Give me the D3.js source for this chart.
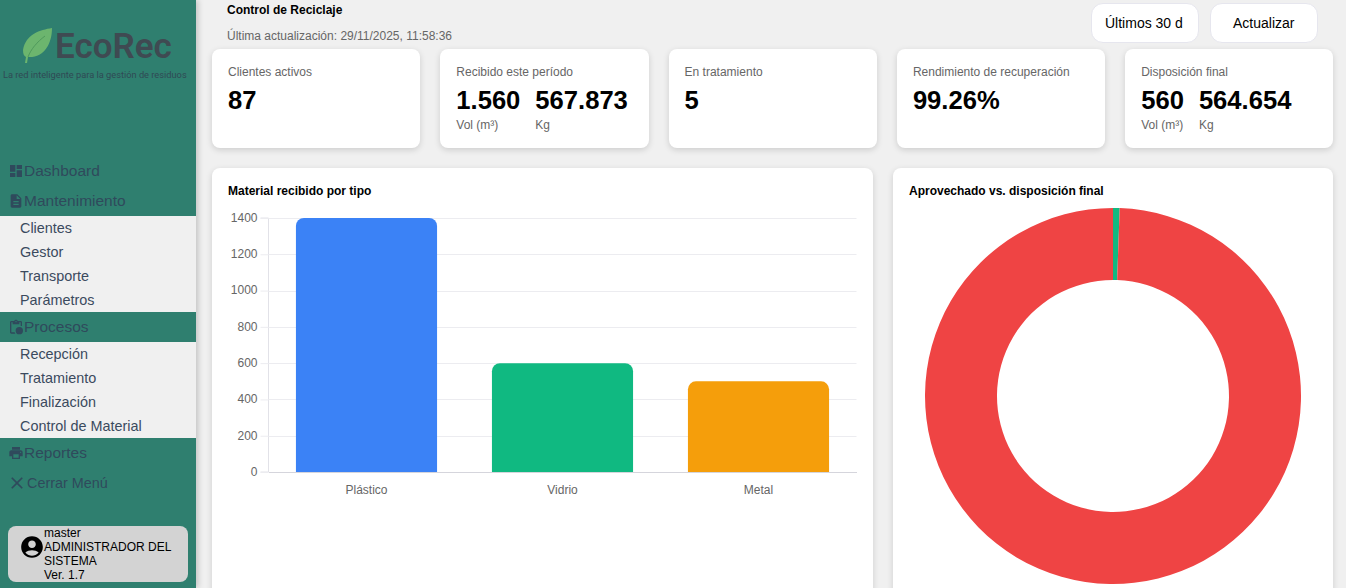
<!DOCTYPE html>
<html lang="es">
<head>
<meta charset="utf-8">
<title>Control de Reciclaje</title>
<script src="https://cdn.jsdelivr.net/npm/d3@7"></script>
<style>
  html, body { margin: 0; padding: 0; width: 1346px; height: 588px; overflow: hidden; background: #f0f0f0; font-family: "Liberation Sans", Arial, sans-serif; }
  #sidebar { position: absolute; left: 0; top: 0; width: 196px; height: 588px; background: #2f7f6f; box-shadow: 2px 0 6px rgba(0,0,0,.2); color: #2f4a5c; }
  #logo { position: absolute; left: 0; top: 0; }
  #nav { position: absolute; left: 0; top: 156px; width: 196px; }
  .head { height: 30px; display: flex; align-items: center; padding-left: 8px; font-size: 15.5px; }
  .head svg { width: 16px; height: 16px; fill: #2f4a5c; }
  .subs { background: #f0f0f0; }
  .sub { height: 24px; line-height: 24px; padding-left: 20px; font-size: 14.4px; color: #3b4a5e; }
  .close { font-size: 14.4px; }
  .close svg { margin-left: -1.5px; margin-right: 0.5px; width: 20px; height: 20px; }
  #user { position: absolute; left: 8px; top: 526px; width: 180px; height: 56px; background: #d3d3d3; border-radius: 8px; color: #000; font-size: 12px; line-height: 14px; }
  #user svg { position: absolute; left: 11px; top: 8px; width: 26px; height: 26px; }
  #user div { position: absolute; left: 36px; top: 0; width: 140px; }
  #title { position: absolute; left: 227px; top: 3px; font-size: 12px; line-height: 14px; font-weight: bold; color: #000; }
  #updated { position: absolute; left: 227px; top: 29px; font-size: 12px; line-height: 14px; color: #666; }
  .btn { position: absolute; top: 3px; width: 107.5px; height: 40px; box-sizing: border-box; background: #fff; border: 1px solid #e6e6ee; border-radius: 12px; font-size: 14px; line-height: 38px; text-align: center; color: #000; }
  #range { left: 1091px; text-align: left; }
  #range span { display: block; margin-left: 13px; white-space: nowrap; }
  #refresh { left: 1210px; }
  #kpis { position: absolute; left: 212px; top: 49px; width: 1121.5px; display: flex; gap: 20px; }
  .kpi { flex: 1; height: 99px; box-sizing: border-box; padding: 16px 16px 0; background: #fff; border-radius: 8px; box-shadow: 0 2px 6px rgba(0,0,0,.15); }
  .kpi .label { font-size: 12px; line-height: 14px; color: #666; }
  .kpi .groups { display: flex; gap: 15px; margin-top: 6px; }
  .kpi .val { font-size: 25.6px; line-height: 30px; font-weight: bold; color: #000; }
  .kpi .unit { font-size: 12px; line-height: 14px; margin-top: 3px; color: #666; }
  .panel { position: absolute; top: 168px; height: 440px; background: #fff; border-radius: 8px; box-shadow: 0 2px 6px rgba(0,0,0,.15); }
  #panelBar { left: 212px; width: 661px; }
  #panelDonut { left: 893px; width: 440px; }
  #charts { position: absolute; left: 0; top: 0; }
  .chart-title { font-size: 12px; font-weight: bold; fill: #000; }
  .tick text { font-family: "Liberation Sans", Arial, sans-serif; font-size: 12px; fill: #666; }
</style>
</head>
<body>
<div id="sidebar">
  <svg id="logo" width="196" height="100">
    <path d="M52 28C40 30 26 34 23 50C23 54 24 56 26 57L25 63L27 63L28 57C44 58 52 44 52 28Z" fill="#6cb56e"/>
    <path d="M28 57C31 49 37 42 45 36" fill="none" stroke="#4f9a5c" stroke-width="1"/>
    <text x="55" y="58" font-family="Roboto" font-weight="600" font-size="35" fill="#3f4a52">EcoRec</text>
    <text x="3" y="78" font-family="Roboto" font-size="9.25" fill="#2f4a55">La red inteligente para la gestión de residuos</text>
  </svg>
  <div id="nav"></div>
  <div id="user"></div>
</div>
<div id="title"></div>
<div id="updated"></div>
<div class="btn" id="range"><span></span></div>
<div class="btn" id="refresh"></div>
<div id="kpis"></div>
<div class="panel" id="panelBar"></div>
<div class="panel" id="panelDonut"></div>
<svg id="charts" width="1346" height="588"></svg>
<script>
// chart data
const materials = ["Plástico", "Vidrio", "Metal"];
const materialValues = [1400, 600, 500];
const materialColors = ["#3b82f6", "#10b981", "#f59e0b"];
const yTicks = [0, 200, 400, 600, 800, 1000, 1200, 1400];

const outcomeLabels = ["Aprovechado", "Disposición final"];
const outcomeValues = [3219, 564654];
const outcomeColors = ["#10b981", "#ef4444"];

// KPI cards
const kpiLabels = ["Clientes activos", "Recibido este período", "En tratamiento", "Rendimiento de recuperación", "Disposición final"];
const kpiValues = [["87"], ["1.560", "567.873"], ["5"], ["99.26%"], ["560", "564.654"]];
const kpiUnits = [[""], ["Vol (m³)", "Kg"], [""], [""], ["Vol (m³)", "Kg"]];

// sidebar menu
const icons = {
  dashboard: "M3 13h8V3H3v10zm0 8h8v-6H3v6zm10 0h8V11h-8v10zm0-18v6h8V3h-8z",
  doc: "M14 2H6c-1.1 0-2 .9-2 2v16c0 1.1.9 2 2 2h12c1.1 0 2-.9 2-2V8l-6-6zm2 16H8v-2h8v2zm0-4H8v-2h8v2zm-3-5V3.5L18.5 9H13z",
  clip: "M19 3h-4.18C14.4 1.84 13.3 1 12 1s-2.4.84-2.82 2H5c-1.1 0-2 .9-2 2v15c0 1.1.9 2 2 2h6.11c-.6-.6-1-1.4-1.1-2H5V5h2v3h10V5h2v5.08c.7.1 1.4.3 2 .6V5c0-1.1-.9-2-2-2zm-7 2c-.55 0-1-.45-1-1s.45-1 1-1 1 .45 1 1-.45 1-1 1zM17 12a5.5 5.5 0 1 0 0 11a5.5 5.5 0 1 0 0-11z",
  print: "M19 8H5c-1.66 0-3 1.34-3 3v6h4v4h12v-4h4v-6c0-1.66-1.34-3-3-3zm-3 11H8v-5h8v5zm3-7c-.55 0-1-.45-1-1s.45-1 1-1 1 .45 1 1-.45 1-1 1zm-1-9H6v4h12V3z",
  close: "M19 6.41L17.59 5 12 10.59 6.41 5 5 6.41 10.59 12 5 17.59 6.41 19 12 13.41 17.59 19 19 17.59 13.41 12z",
  user: "M12 2C6.48 2 2 6.48 2 12s4.48 10 10 10 10-4.48 10-10S17.52 2 12 2zm0 4c1.93 0 3.5 1.57 3.5 3.5S13.93 13 12 13s-3.5-1.57-3.5-3.5S10.07 6 12 6zm0 14c-2.03 0-4.43-.82-6.14-2.88C7.55 15.8 9.68 15 12 15s4.45.8 6.14 2.12C16.43 19.18 14.03 20 12 20z"
};
const menuHeads = ["Dashboard", "Mantenimiento", "Procesos", "Reportes"];
const menuIcons = ["dashboard", "doc", "clip", "print"];
const menuSubs = [[], ["Clientes", "Gestor", "Transporte", "Parámetros"], ["Recepción", "Tratamiento", "Finalización", "Control de Material"], []];
const userLines = ["master", "ADMINISTRADOR DEL", "SISTEMA", "Ver. 1.7"];

// page furniture
d3.select("#title").text("Control de Reciclaje");
d3.select("#updated").text("Última actualización: 29/11/2025, 11:58:36");
d3.select("#range span").text("Últimos 30 d");
d3.select("#refresh").text("Actualizar");

function icon(sel, name) {
  sel.append("svg").attr("viewBox", "0 0 24 24").append("path").attr("d", icons[name]);
}

const nav = d3.select("#nav");
menuHeads.forEach(function(name, i) {
  const head = nav.append("div").attr("class", "head");
  icon(head, menuIcons[i]);
  head.append("span").text(name);
  if (menuSubs[i].length) {
    nav.append("div").attr("class", "subs")
      .selectAll("div").data(menuSubs[i]).enter()
      .append("div").attr("class", "sub").text(d => d);
  }
});
const closeRow = nav.append("div").attr("class", "head close");
icon(closeRow, "close");
closeRow.append("span").text("Cerrar Menú");

const user = d3.select("#user");
icon(user, "user");
user.append("div").selectAll("div").data(userLines).enter().append("div")
  .style("position", "static").style("width", "auto").text(d => d);

// KPI cards
const kpi = d3.select("#kpis").selectAll(".kpi").data(kpiLabels).enter()
  .append("div").attr("class", "kpi");
kpi.append("div").attr("class", "label").text(d => d);
kpi.each(function(d, i) {
  const groups = d3.select(this).append("div").attr("class", "groups");
  kpiValues[i].forEach(function(v, j) {
    const g = groups.append("div");
    g.append("div").attr("class", "val").text(v);
    g.append("div").attr("class", "unit").text(kpiUnits[i][j]);
  });
});

// bar chart
const svg = d3.select("#charts");
svg.append("text").attr("class", "chart-title").attr("x", 228).attr("y", 195).text("Material recibido por tipo");

const plot = { left: 268.5, right: 856.5, top: 218, bottom: 472 };
const x = d3.scaleBand().domain(materials).range([plot.left, plot.right]).paddingInner(0.28).paddingOuter(0.14);
const y = d3.scaleLinear().domain([0, 1400]).range([plot.bottom, plot.top]);

const yAxis = svg.append("g").attr("transform", "translate(" + plot.left + ",0)")
  .call(d3.axisLeft(y).tickValues(yTicks).tickSize(8).tickPadding(3).offset(0).tickFormat(d3.format("d")));
yAxis.select(".domain").attr("stroke", "#e2e2e8");
yAxis.selectAll(".tick line").attr("stroke", "#ececf0").attr("transform", "translate(0,0.5)");

svg.append("g").selectAll("line").data(yTicks.filter(d => d > 0)).enter().append("line")
  .attr("x1", plot.left).attr("x2", plot.right)
  .attr("y1", d => Math.round(y(d)) + 0.5).attr("y2", d => Math.round(y(d)) + 0.5)
  .attr("stroke", "#ececf0");

function topRounded(px, py, w, h, r) {
  const p = d3.path();
  p.moveTo(px, py + h);
  p.lineTo(px, py + r);
  p.arcTo(px, py, px + r, py, r);
  p.lineTo(px + w - r, py);
  p.arcTo(px + w, py, px + w, py + r, r);
  p.lineTo(px + w, py + h);
  p.closePath();
  return p.toString();
}

svg.append("g").selectAll("path").data(materials).enter().append("path")
  .attr("d", (d, i) => topRounded(x(d), y(materialValues[i]), x.bandwidth(), plot.bottom - y(materialValues[i]), 8))
  .attr("fill", (d, i) => materialColors[i]);

const xAxis = svg.append("g").attr("transform", "translate(0," + plot.bottom + ")")
  .call(d3.axisBottom(x).tickSize(0).tickPadding(13));
xAxis.select(".domain").attr("stroke", "#d5d5dc");

// donut
svg.append("text").attr("class", "chart-title").attr("x", 909).attr("y", 195).text("Aprovechado vs. disposición final");

const pie = d3.pie().sort(null).value(d => d);
const arc = d3.arc().innerRadius(116).outerRadius(188);
svg.append("g").attr("transform", "translate(1113,396)")
  .selectAll("path").data(pie(outcomeValues)).enter().append("path")
  .attr("d", arc)
  .attr("fill", (d, i) => outcomeColors[i])
  .append("title").text((d, i) => outcomeLabels[i]);
</script>
</body>
</html>
